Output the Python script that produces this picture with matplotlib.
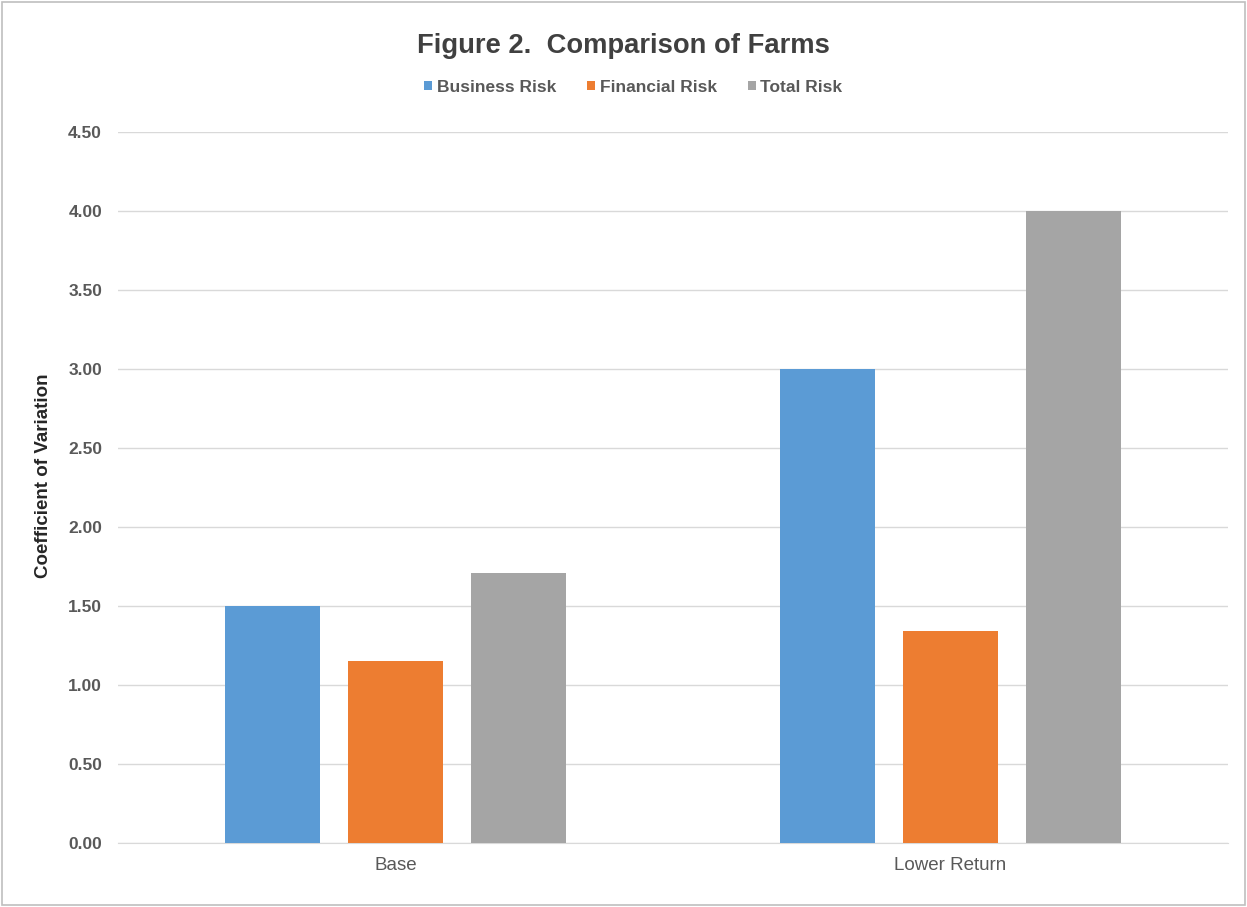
import numpy as np
import matplotlib
matplotlib.use("Agg")
import matplotlib.pyplot as plt
from matplotlib.patches import Rectangle

# data
categories = ["Base", "Lower Return"]
series_names = ["Business Risk", "Financial Risk", "Total Risk"]
business_risk = [1.50, 3.00]
financial_risk = [1.15, 1.34]
total_risk = [1.71, 4.00]
yticks = [0.0, 0.5, 1.0, 1.5, 2.0, 2.5, 3.0, 3.5, 4.0, 4.5]

colors = ["#5B9BD5", "#ED7D31", "#A5A5A5"]
txt = "#595959"

plt.rcParams['font.family'] = ['Liberation Sans', 'DejaVu Sans']

fig = plt.figure(figsize=(12.47, 9.07), dpi=100)
ax = fig.add_axes([118 / 1247, 1 - 843 / 907, 1110 / 1247, (843 - 132) / 907])

x = np.arange(len(categories))
width = 0.172
offset = 0.222
for i, (vals, name) in enumerate(zip([business_risk, financial_risk, total_risk], series_names)):
    ax.bar(x + (i - 1) * offset, vals, width, color=colors[i], label=name, zorder=3)

ax.set_xlim(-0.5, 1.5)
ax.set_ylim(0, 4.5)
ax.set_yticks(yticks)
ax.set_yticklabels([f"{v:.2f}" for v in yticks], fontsize=12.5, fontweight='bold', color=txt)
ax.set_xticks(x)
ax.set_xticklabels(categories, fontsize=13.5, color=txt)
ax.tick_params(axis='both', length=0)
ax.tick_params(axis='y', pad=11.5)
ax.tick_params(axis='x', pad=10)
ax.grid(axis='y', color='#D9D9D9', linewidth=1, zorder=0)
for s in ["top", "right", "left"]:
    ax.spines[s].set_visible(False)
ax.spines["bottom"].set_color('#D9D9D9')

ax.set_ylabel("Coefficient of Variation", fontsize=13.5, fontweight='bold', color='#262626')
ax.yaxis.set_label_coords(-66 / 1110, (843 - 476) / 711)

fig.text(0.5, 1 - 46 / 907, "Figure 2.  Comparison of Farms", ha='center', va='center',
         fontsize=19.7, fontweight='bold', color='#404040')
fig.legend(loc='center', bbox_to_anchor=(0.508, 1 - 87 / 907), ncol=3, frameon=False,
           prop={'size': 12.5, 'weight': 'bold'}, labelcolor=txt, handlelength=0.46, handleheight=0.46,
           handletextpad=0.25, columnspacing=1.8)

fig.patches.append(Rectangle((0.002, 0.002), 0.996, 0.996, transform=fig.transFigure,
                             fill=False, edgecolor='#BFBFBF', linewidth=1.2))

fig.savefig("out.png", dpi=100)
